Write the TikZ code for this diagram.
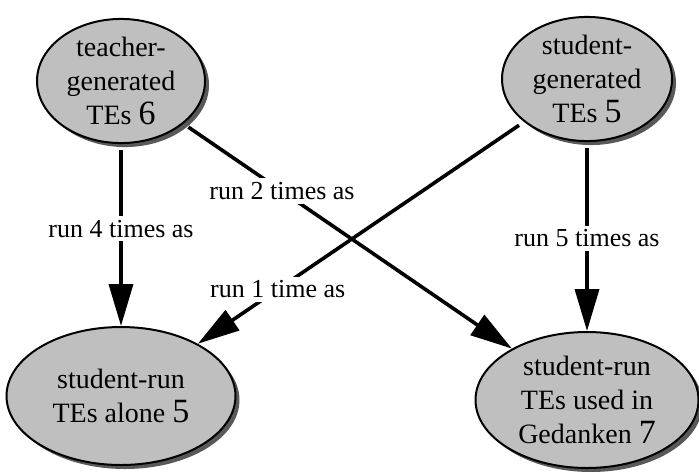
\documentclass[tikz,border=0pt]{standalone}
\usepackage{fontspec}
\setmainfont{Liberation Serif}
\usetikzlibrary{shapes.geometric,shadows,arrows.meta}

\tikzset{
	tebubble/.style={ellipse, draw=black, line width=1pt, fill=black!25, align=center, inner sep=0pt,
		font=\fontsize{14pt}{17pt}\selectfont,
		drop shadow={shadow xshift=2pt, shadow yshift=-2pt, fill=black!65, opacity=1}},
	runlabel/.style={fill=white, inner sep=2pt, font=\fontsize{13pt}{15pt}\selectfont},
}
\newcommand{\tecount}[1]{{\fontsize{17pt}{17pt}\selectfont #1}}

\begin{document}
\begin{tikzpicture}[x=0.5pt, y=-0.5pt]

\useasboundingbox (0,0) rectangle (699,471);

\node at (121,81) [tebubble, minimum width=84pt, minimum height=61pt] (teachergen) {teacher-\\generated\\TEs \tecount{6}};
\node at (587,79) [tebubble, minimum width=85pt, minimum height=61pt] (studentgen) {student-\\generated\\TEs \tecount{5}};

\node at (121,396) [tebubble, minimum width=114.5pt, minimum height=69pt] (alone) {student-run\\TEs alone \tecount{5}};
\node at (587,400) [tebubble, minimum width=111.5pt, minimum height=68pt] (gedanken) {student-run\\TEs used in\\Gedanken \tecount{7}};


\begin{scope}[line width=1.8pt, -{Triangle[length=21pt,width=12pt]}, shorten <=3pt]
	\draw (teachergen) -- node [runlabel, pos=0.465] {run 4 times as} (alone);
	\draw (teachergen) -- node [runlabel, pos=0.30] {run 2 times as} (gedanken);
	\draw (studentgen) -- node [runlabel, pos=0.755] {run 1 time as} (alone);
	\draw (studentgen) -- node [runlabel, pos=0.51] {run 5 times as} (gedanken);
\end{scope}

\end{tikzpicture}
\end{document}
